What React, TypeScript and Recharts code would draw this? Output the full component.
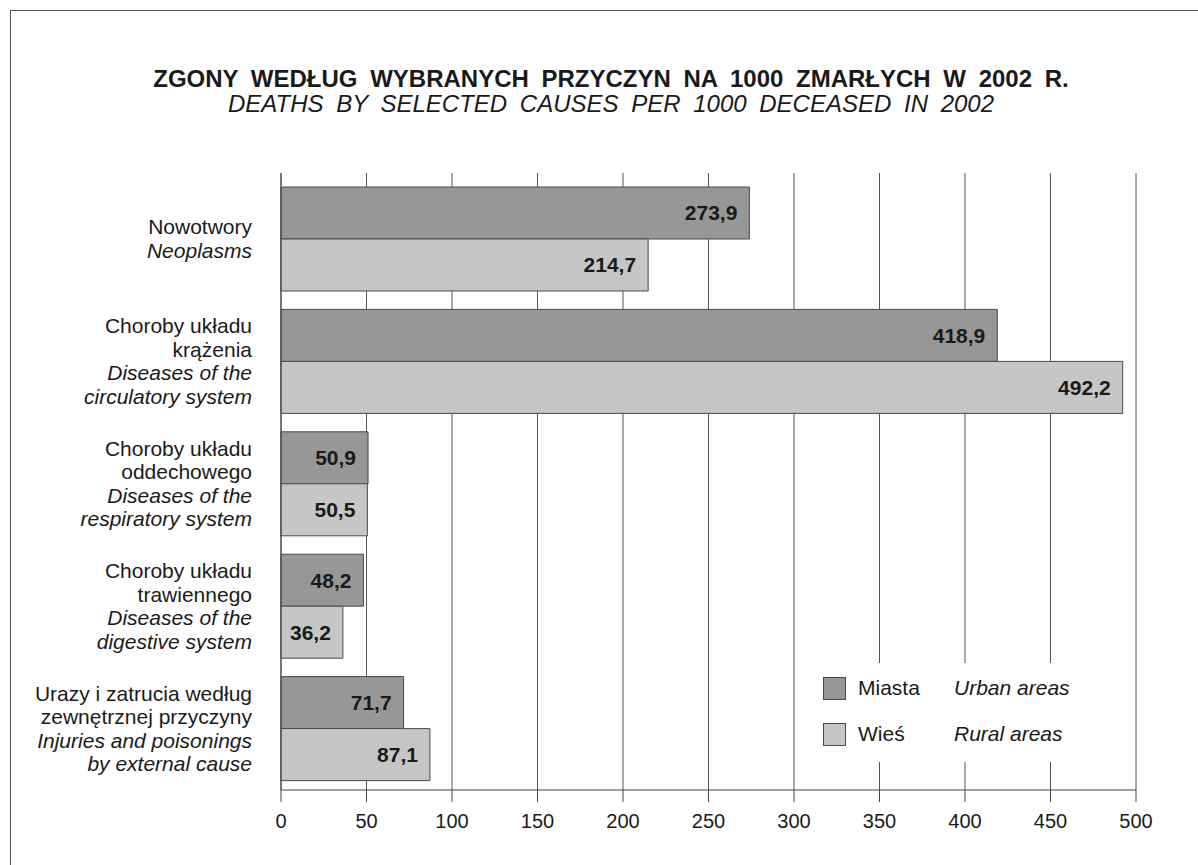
import { BarChart, Bar, XAxis, YAxis, CartesianGrid, Legend, LabelList } from 'recharts'

const causesPl = [
  'Nowotwory',
  'Choroby układu\nkrążenia',
  'Choroby układu\noddechowego',
  'Choroby układu\ntrawiennego',
  'Urazy i zatrucia według\nzewnętrznej przyczyny',
]
const causesEn = [
  'Neoplasms',
  'Diseases of the\ncirculatory system',
  'Diseases of the\nrespiratory system',
  'Diseases of the\ndigestive system',
  'Injuries and poisonings\nby external cause',
]
const urban = [273.9, 418.9, 50.9, 48.2, 71.7]
const rural = [214.7, 492.2, 50.5, 36.2, 87.1]
const xTicks = [0, 50, 100, 150, 200, 250, 300, 350, 400, 450, 500]
const seriesPl = ['Miasta', 'Wieś']
const seriesEn = ['Urban areas', 'Rural areas']

const FONT = 'Arial, "Liberation Sans", sans-serif'
const INK = '#1a1a1a'
const DARK = '#979797'
const LIGHT = '#c6c6c6'
const EDGE = '#4a4a4a'

const data = causesPl.map((name, i) => ({
  name,
  en: causesEn[i],
  urban: urban[i],
  rural: rural[i],
}))

function fmt(v: any) {
  return Number(v).toFixed(1).replace('.', ',')
}

function CauseTick(props: any) {
  const { x, y, payload, index } = props
  const pl = String(payload.value).split('\n')
  const en = causesEn[index ?? causesPl.indexOf(payload.value)].split('\n')
  const lines = [...pl.map((t) => ({ t, it: false })), ...en.map((t) => ({ t, it: true }))]
  const lh = 23.5
  const first = y - ((lines.length - 1) * lh) / 2 + 7
  return (
    <text x={x} y={first} textAnchor="end" fontSize={21} fontFamily={FONT} fill={INK}>
      {lines.map((l, i) => (
        <tspan key={i} x={x} y={first + i * lh} fontStyle={l.it ? 'italic' : 'normal'}>
          {l.t}
        </tspan>
      ))}
    </text>
  )
}

function LegendBox(props: any) {
  const items = props.payload || []
  return (
    <div style={{ position: 'relative', width: 285, height: 99, background: '#fff', fontFamily: FONT, fontSize: 21, color: INK }}>
      {items.map((it: any, i: number) => (
        <div key={i}>
          <div
            style={{
              position: 'absolute',
              left: 18,
              top: 14 + i * 46,
              width: 23,
              height: 23,
              boxSizing: 'border-box',
              border: `1px solid ${EDGE}`,
              background: it.color,
            }}
          />
          <div style={{ position: 'absolute', left: 53, top: 13 + i * 46, lineHeight: '23px', whiteSpace: 'nowrap' }}>
            {it.value}
          </div>
          <div style={{ position: 'absolute', left: 149, top: 13 + i * 46, lineHeight: '23px', whiteSpace: 'nowrap', fontStyle: 'italic' }}>
            {seriesEn[seriesPl.indexOf(it.value)]}
          </div>
        </div>
      ))}
    </div>
  )
}

export default function App() {
  return (
    <div style={{ position: 'absolute', left: 0, top: 0, width: 1198, height: 865, overflow: 'hidden', background: '#fff' }}>
      <div
        style={{
          position: 'absolute',
          left: 10,
          top: 10,
          width: 1220,
          height: 900,
          borderLeft: '1px solid #555',
          borderTop: '1px solid #555',
        }}
      />
      <div
        style={{
          position: 'absolute',
          left: 0,
          top: 67,
          width: 1222,
          textAlign: 'center',
          fontFamily: FONT,
          fontSize: 24,
          lineHeight: '24px',
          fontWeight: 'bold',
          wordSpacing: 6,
          color: INK,
          whiteSpace: 'nowrap',
        }}
      >
        ZGONY WEDŁUG WYBRANYCH PRZYCZYN NA 1000 ZMARŁYCH W 2002 R.
      </div>
      <div
        style={{
          position: 'absolute',
          left: 0,
          top: 92,
          width: 1222,
          textAlign: 'center',
          fontFamily: FONT,
          fontSize: 24,
          lineHeight: '24px',
          fontStyle: 'italic',
          wordSpacing: 6,
          color: INK,
          whiteSpace: 'nowrap',
        }}
      >
        DEATHS BY SELECTED CAUSES PER 1000 DECEASED IN 2002
      </div>
      <div style={{ position: 'absolute', left: 0, top: 0 }}>
        <BarChart
          width={1198}
          height={865}
          data={data}
          layout="vertical"
          margin={{ top: 173, right: 62, bottom: 35, left: 0 }}
          barCategoryGap={9}
          barGap={0}
        >
          <CartesianGrid horizontal={false} vertical={true} stroke="#555" />
          <XAxis
            type="number"
            domain={[0, 500]}
            ticks={xTicks}
            interval={0}
            height={40}
            tickSize={12}
            tickMargin={12}
            axisLine={{ stroke: '#444' }}
            tickLine={{ stroke: '#444' }}
            tick={{ fontSize: 20, fill: INK, fontFamily: FONT }}
          />
          <XAxis
            xAxisId="top"
            orientation="top"
            type="number"
            domain={[0, 500]}
            height={0}
            tick={false}
            tickLine={false}
            axisLine={{ stroke: '#444' }}
          />
          <YAxis
            type="category"
            dataKey="name"
            width={281}
            padding={{ top: 5, bottom: 0 }}
            tickSize={0}
            tickMargin={29}
            tickLine={false}
            axisLine={{ stroke: '#444' }}
            interval={0}
            tick={<CauseTick />}
          />
          <Legend
            layout="vertical"
            align="center"
            verticalAlign="middle"
            content={<LegendBox />}
            wrapperStyle={{ left: 805, top: 663, width: 285, height: 99 }}
          />
          <Bar dataKey="urban" name={seriesPl[0]} fill={DARK} stroke={EDGE} strokeWidth={1} isAnimationActive={false}>
            <LabelList
              dataKey="urban"
              position="insideRight"
              offset={12}
              formatter={fmt}
              style={{ fontSize: 21, fontWeight: 'bold', fill: INK, fontFamily: FONT }}
            />
          </Bar>
          <Bar dataKey="rural" name={seriesPl[1]} fill={LIGHT} stroke={EDGE} strokeWidth={1} isAnimationActive={false}>
            <LabelList
              dataKey="rural"
              position="insideRight"
              offset={12}
              formatter={fmt}
              style={{ fontSize: 21, fontWeight: 'bold', fill: INK, fontFamily: FONT }}
            />
          </Bar>
        </BarChart>
      </div>
    </div>
  )
}
